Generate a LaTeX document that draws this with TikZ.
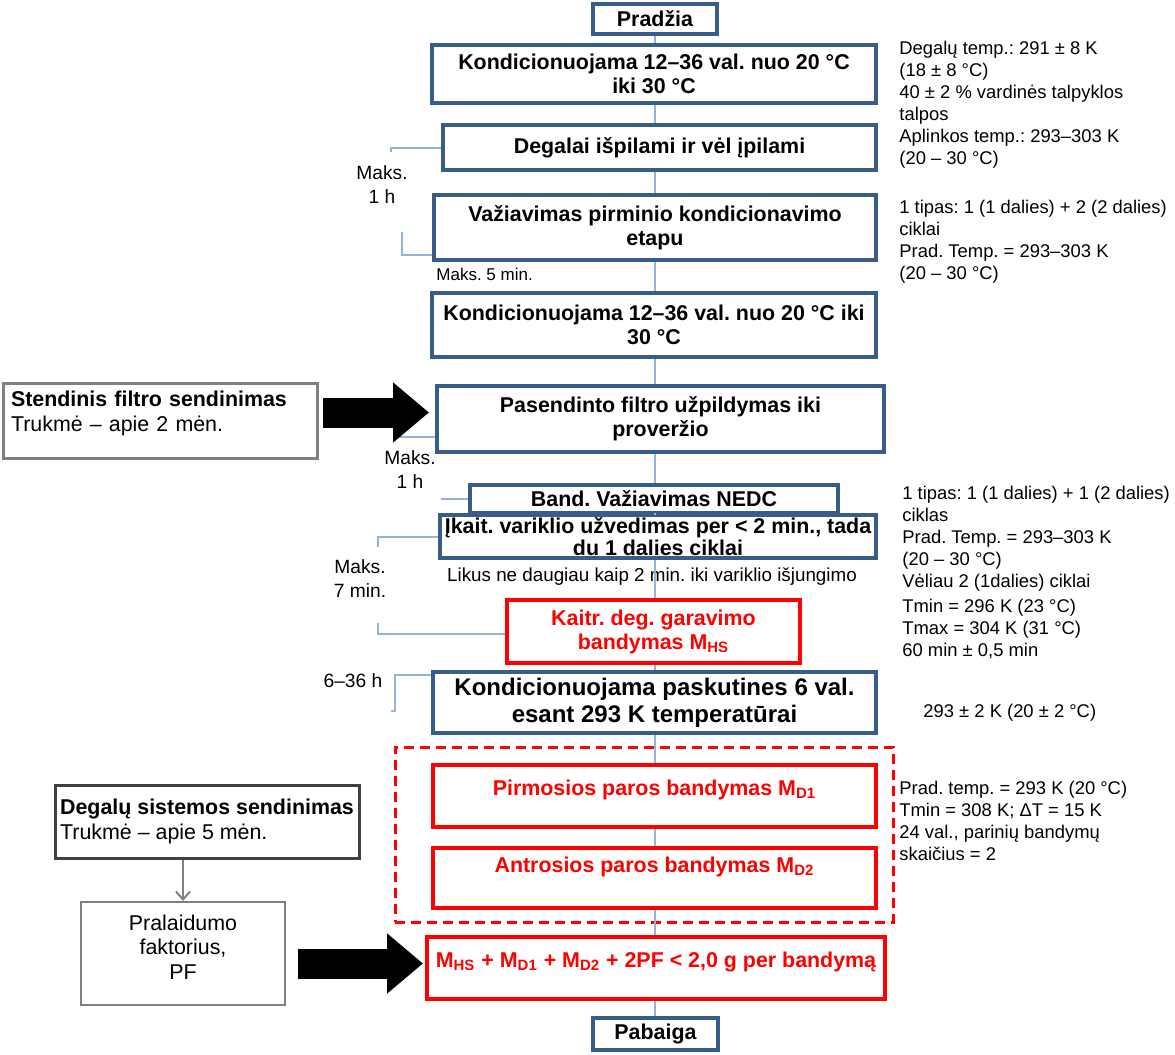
\documentclass[tikz,border=0pt]{standalone}
\usepackage{fontspec}
\setmainfont{Liberation Sans}
\frenchspacing
\usetikzlibrary{arrows.meta,positioning,calc}
\definecolor{StepBlue}{RGB}{56,93,138}
\definecolor{LinkBlue}{RGB}{149,179,215}
\definecolor{TestRed}{RGB}{255,0,0}
\definecolor{AgeGray}{RGB}{128,128,128}
\definecolor{AgeDark}{RGB}{64,64,64}
\tikzset{
  stepbox/.style={draw=StepBlue,line width=2pt,fill=white,inner sep=0pt,
    align=center,font=\fontsize{10.7}{12}\selectfont\bfseries},
  testbox/.style={draw=TestRed,line width=2pt,fill=white,inner sep=0pt,
    align=center,text=TestRed,font=\fontsize{10.7}{12}\selectfont\bfseries},
  groupbox/.style={draw=TestRed,line width=1.5pt,dash pattern=on 5pt off 3pt},
  agebox/.style={draw=AgeGray,line width=1.5pt,fill=white,inner sep=0pt,
    font=\fontsize{10.7}{12.5}\selectfont},
  note/.style={anchor=north west,align=left,inner sep=0pt,
    font=\fontsize{9.2}{11}\selectfont},
  timelabel/.style={align=center,inner sep=0pt,font=\fontsize{9.6}{12}\selectfont},
  link/.style={LinkBlue,line width=1pt},
  bracket/.style={LinkBlue,line width=1pt},
  bigarrow/.style={line width=15pt,-{Triangle[length=18pt,width=29pt]}},
  feed/.style={AgeGray,line width=1pt,-{Straight Barb[length=4pt,width=7pt]}}
}

\begin{document}
\begin{tikzpicture}[x=0.5pt,y=-0.5pt]
\useasboundingbox (0,0) rectangle (1175,1055);
\coordinate (axis) at (655,0);
% main column
\node[stepbox,minimum width=62pt,minimum height=15pt] (pradzia) at (655,19) {Pradžia};
\node[stepbox,minimum width=222pt,minimum height=29pt] (kond1) at (654,74) {Kondicionuojama 12–36 val. nuo 20 °C\\iki 30 °C};
\node[stepbox,minimum width=216.5pt,minimum height=22.5pt] (degalai) at (659.5,147.5) {Degalai išpilami ir vėl įpilami};
\node[stepbox,minimum width=221pt,minimum height=32.5pt] (vaz) at (655,227.5) {Važiavimas pirminio kondicionavimo\\etapu};
\node[stepbox,minimum width=222pt,minimum height=32pt] (kond2) at (654,325) {Kondicionuojama 12–36 val. nuo 20 °C iki\\30 °C};
\node[stepbox,minimum width=223.5pt,minimum height=33pt] (pasend) at (660.5,419) {Pasendinto filtro užpildymas iki\\proveržio};
\node[stepbox,minimum width=184pt,minimum height=14pt] (nedc) at (654,499) {Band. Važiavimas NEDC};
\node[stepbox,minimum width=218pt,minimum height=21.5pt,font=\fontsize{10.7}{11}\selectfont\bfseries] (ikait) at (658,536.5) {Įkait. variklio užvedimas per < 2 min., tada\\du 1 dalies ciklai};
\node[testbox,minimum width=146.5pt,minimum height=31.5pt] (kaitr) at (653.5,631.5) {Kaitr. deg. garavimo\\bandymas M\textsubscript{HS}};
\node[stepbox,minimum width=221.5pt,minimum height=30.5pt,font=\fontsize{12}{13.5}\selectfont\bfseries] (kondpask) at (654.5,702.5) {Kondicionuojama paskutines 6 val.\\esant 293 K temperatūrai};
\node[groupbox,minimum width=249pt,minimum height=87.5pt] (dayframe) at (644,834.5) {};
\node[testbox,minimum width=221.5pt,minimum height=31pt] (pirm) at (654.5,796) {Pirmosios paros bandymas M\textsubscript{D1}\\[-3.6pt]\mbox{}};
\node[testbox,minimum width=221.5pt,minimum height=30pt] (antr) at (654.5,878) {Antrosios paros bandymas M\textsubscript{D2}\\[1.4pt]\mbox{}};
\node[testbox,minimum width=229pt,minimum height=31pt] (sum) at (656,968) {M\textsubscript{HS} + M\textsubscript{D1} + M\textsubscript{D2} + 2PF < 2,0 g per bandymą\\[-3.6pt]\mbox{}};
\node[stepbox,minimum width=62.5pt,minimum height=16pt] (pabaiga) at (655.5,1034) {Pabaiga};
% ageing boxes on the left
\node[agebox,minimum width=157pt,minimum height=37.5pt,text width=149pt,align=left] (stend) at (160,420.5) {\textbf{Stendinis filtro sendinimas}\\Trukmė – apie 2 mėn.\\[-3pt]\mbox{}};
\node[agebox,draw=AgeDark,minimum width=152pt,minimum height=36.5pt,align=left] (degsys) at (207,821.5) {\textbf{Degalų sistemos sendinimas}\\Trukmė – apie 5 mėn.};
\node[agebox,line width=1pt,minimum width=102pt,minimum height=51.5pt,align=center,font=\fontsize{10.7}{12.25}\selectfont] (pf) at (183,953.5) {Pralaidumo\\faktorius,\\PF\\[-5.9pt]\mbox{}};
% time labels
\node[timelabel] (maks1) at (382,185) {Maks.\\1 h};
\node[timelabel] (maks2) at (410,470) {Maks.\\1 h};
\node[timelabel] (maks7) at (360,579) {Maks.\\7 min.};
\node[timelabel] (soak) at (353,681) {6–36 h};
\node[timelabel,anchor=west,font=\fontsize{8.5}{10}\selectfont] (maks5) at (436,274) {Maks. 5 min.};
\node[timelabel,font=\fontsize{9.4}{11}\selectfont] (likus) at (652,577) {Likus ne daugiau kaip 2 min. iki variklio išjungimo};
% notes on the right
\node[note] (fuelnote) at (899,41) {Degalų temp.: 291 ± 8 K\\(18 ± 8 °C)\\40 ± 2 \% vardinės talpyklos\\talpos\\Aplinkos temp.: 293–303 K\\(20 – 30 °C)};
\node[note] (prepnote) at (899,200) {1 tipas: 1 (1 dalies) + 2 (2 dalies)\\ciklai\\Prad. Temp. = 293–303 K\\(20 – 30 °C)};
\node[note] (hsnote) at (902,486) {1 tipas: 1 (1 dalies) + 1 (2 dalies)\\ciklas\\Prad. Temp. = 293–303 K\\(20 – 30 °C)\\Vėliau 2 (1dalies) ciklai\\[1.5pt]Tmin = 296 K (23 °C)\\Tmax = 304 K (31 °C)\\60 min ± 0,5 min};
\node[note] (soaknote) at (923,704) {293 ± 2 K (20 ± 2 °C)};
\node[note] (dbnote) at (899,781) {Prad. temp. = 293 K (20 °C)\\Tmin = 308 K; ΔT = 15 K\\24 val., parinių bandymų\\skaičius = 2};
% links
\foreach \a/\b in {pradzia/kond1,kond1/degalai,degalai/vaz,vaz/kond2,kond2/pasend,
    pasend/nedc,nedc/ikait,ikait/kaitr,kaitr/kondpask,kondpask/pirm,pirm/antr,
    antr/sum,sum/pabaiga}
  \draw[link] (axis |- \a.south) -- (axis |- \b.north);
% brackets
\draw[bracket] (degalai.west) -- ++(-50,0) -- ++(0,4);
\draw[bracket] ($(vaz.south west)+(0,-7)$) -- ++(-30,0) -- ++(0,-23);
\draw[bracket] ($(pasend.south west)+(0,-17)$) -- ++(-39,0) -- ++(0,-3);
\draw[bracket] (nedc.west) -- ++(-27,0);
\draw[bracket] (ikait.west) -- ++(-60,0) -- ++(0,10);
\draw[bracket] ($(kaitr.west)+(0,2)$) -- ++(-127,0) -- ++(0,-11);
\draw[bracket] ($(kondpask.north west)+(0,5)$) -- ++(-36,0) -- ++(0,36) -- ++(-4,0);
% arrows
\draw[bigarrow,shorten >=3pt] ($(stend.east)+(4,-8)$) -- ($(stend.east -| pasend.west)+(0,-8)$);
\draw[bigarrow,shorten >=1pt] ($(pf.east)+(12,10)$) -- ($(pf.east -| sum.west)+(0,10)$);
\draw[feed] (pf.north |- degsys.south) -- (pf.north);
\end{tikzpicture}
\end{document}
